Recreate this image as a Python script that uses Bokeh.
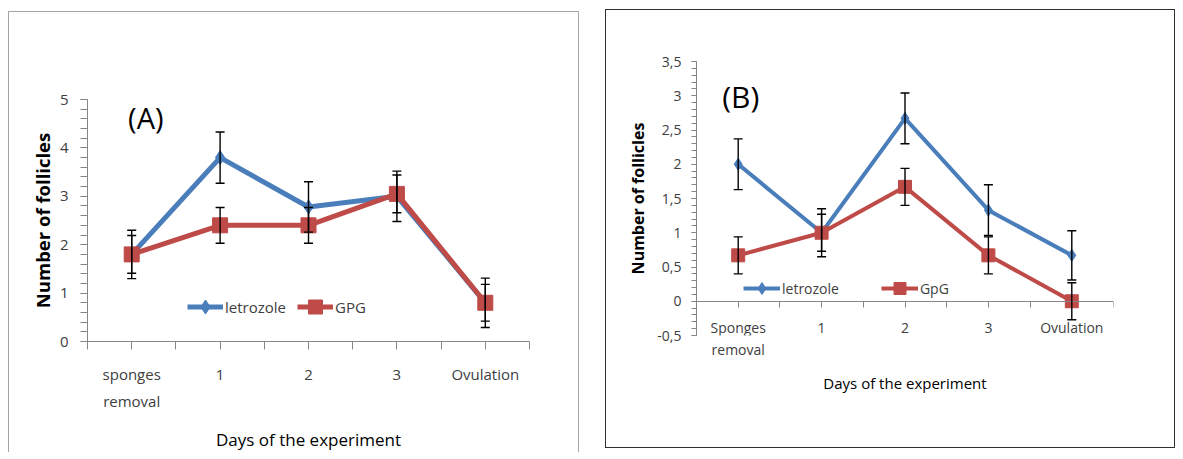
from bokeh.plotting import figure
from bokeh.models import (Range1d, FixedTicker, LinearAxis, ColumnDataSource, Whisker,
                          TeeHead, Legend, LegendItem, Label, Spacer)
from bokeh.layouts import row, column
from bokeh.embed import file_html
from bokeh.resources import INLINE

# ---------------- data ----------------
days_A = ["sponges", "1", "2", "3", "Ovulation"]
days_A_line2 = ["removal", "", "", "", ""]
days_B = ["Sponges", "1", "2", "3", "Ovulation"]
days_B_line2 = ["removal", "", "", "", ""]

A_letrozole = [1.8, 3.8, 2.78, 3.0, 0.8]
A_letrozole_err = [0.5, 0.53, 0.52, 0.52, 0.51]
A_gpg = [1.8, 2.4, 2.4, 3.05, 0.8]
A_gpg_err = [0.39, 0.37, 0.37, 0.39, 0.38]

B_letrozole = [2.0, 1.0, 2.67, 1.33, 0.67]
B_letrozole_err = [0.37, 0.35, 0.37, 0.37, 0.36]
B_gpg = [0.67, 1.0, 1.67, 0.67, 0.0]
B_gpg_err = [0.27, 0.27, 0.27, 0.27, 0.27]

A_yticks = [0, 1, 2, 3, 4, 5]
B_yticks = [-0.5, 0, 0.5, 1, 1.5, 2, 2.5, 3, 3.5]
B_ytick_labels = ["-0,5", "0", "0,5", "1", "1,5", "2", "2,5", "3", "3,5"]

BLUE = "#4a7ebb"
RED = "#be4b48"
AXIS = "#868686"
TXT = "#404040"
FONT = "Open Sans"


def panel(cats, cats2, s1, e1, s2, e2, name1, name2, yr, yticks, yminor, ylabels,
          width, height, mb, fs, tag, tag_xy, tag_fs, leg_loc, leg_glyph_w, leg_glyph_h,
          leg_spacing, lw, msize_d, msize_s, border, x_fixed, xstand, xstand2, xtitle_stand,
          xtick_out, ytick_out, ystand, ytitle_stand, ytitle_fs, xtitle_fs):
    p = figure(width=width, height=height, x_range=Range1d(-0.5, 4.5),
               y_range=Range1d(*yr), output_backend="svg", toolbar_location=None,
               x_axis_location=None, y_axis_location=None,
               min_border_left=mb[0], min_border_right=mb[1],
               min_border_top=mb[2], min_border_bottom=mb[3],
               styles=border)
    p.grid.visible = False
    p.outline_line_color = None

    xs = list(range(len(cats)))

    # y axis
    ya = LinearAxis(ticker=FixedTicker(ticks=yticks, minor_ticks=yminor))
    if ylabels is not None:
        ya.major_label_overrides = {t: l for t, l in zip(yticks, ylabels)}
    ya.axis_label = "Number of follicles"
    ya.axis_label_text_font = FONT
    ya.axis_label_text_font_style = "bold"
    ya.axis_label_text_font_size = ytitle_fs
    ya.axis_label_text_color = "black"
    ya.axis_label_standoff = ytitle_stand
    ya.axis_line_color = AXIS
    ya.major_tick_line_color = AXIS
    ya.minor_tick_line_color = AXIS
    ya.major_tick_out = ytick_out
    ya.major_tick_in = 0
    ya.minor_tick_out = ytick_out
    ya.minor_tick_in = 0
    ya.major_label_standoff = ystand
    ya.major_label_text_font = FONT
    ya.major_label_text_font_size = fs
    ya.major_label_text_color = TXT
    p.add_layout(ya, "left")

    # x axis (first line of category labels)
    xa = LinearAxis(ticker=FixedTicker(ticks=xs, minor_ticks=[x - 0.5 for x in xs] + [xs[-1] + 0.5]))
    if x_fixed:
        xa.fixed_location = 0
    xa.major_label_overrides = {x: c for x, c in zip(xs, cats)}
    xa.axis_line_color = AXIS
    xa.major_tick_line_color = AXIS
    xa.minor_tick_line_color = AXIS
    xa.major_tick_out = xtick_out
    xa.major_tick_in = 0
    xa.minor_tick_out = xtick_out
    xa.minor_tick_in = 0
    xa.major_label_standoff = xstand
    xa.major_label_text_font = FONT
    xa.major_label_text_font_size = fs
    xa.major_label_text_color = TXT
    p.add_layout(xa, "below")

    # second line of category labels + axis title
    xb = LinearAxis(ticker=FixedTicker(ticks=xs, minor_ticks=[]))
    xb.major_label_overrides = {x: c for x, c in zip(xs, cats2)}
    xb.axis_line_color = None
    xb.major_tick_line_color = None
    xb.minor_tick_line_color = None
    xb.major_tick_out = 0
    xb.major_tick_in = 0
    xb.major_label_standoff = xstand2
    xb.major_label_text_font = FONT
    xb.major_label_text_font_size = fs
    xb.major_label_text_color = TXT
    xb.axis_label = "Days of the experiment"
    xb.axis_label_text_font = FONT
    xb.axis_label_text_font_style = "normal"
    xb.axis_label_text_font_size = xtitle_fs
    xb.axis_label_text_color = "black"
    xb.axis_label_standoff = xtitle_stand
    p.add_layout(xb, "below")

    # series
    l1 = p.line(xs, s1, line_color=BLUE, line_width=lw)
    m1 = p.scatter(xs, s1, marker="diamond", size=msize_d, fill_color=BLUE, line_color=BLUE)
    l2 = p.line(xs, s2, line_color=RED, line_width=lw)
    m2 = p.scatter(xs, s2, marker="square", size=msize_s, fill_color=RED, line_color=RED)

    for s, e in ((s1, e1), (s2, e2)):
        src = ColumnDataSource(dict(x=xs, upper=[v + d for v, d in zip(s, e)],
                                    lower=[v - d for v, d in zip(s, e)]))
        w = Whisker(source=src, base="x", upper="upper", lower="lower",
                    line_color="black", line_width=1.4,
                    upper_head=TeeHead(size=9, line_color="black", line_width=1.4),
                    lower_head=TeeHead(size=9, line_color="black", line_width=1.4),
                    level="annotation")
        p.add_layout(w)

    leg = Legend(items=[LegendItem(label=name1, renderers=[l1, m1]),
                        LegendItem(label=name2, renderers=[l2, m2])],
                 orientation="horizontal", location=leg_loc,
                 glyph_width=leg_glyph_w, glyph_height=leg_glyph_h, label_height=16,
                 label_standoff=2, spacing=leg_spacing, padding=0, margin=0,
                 border_line_color=None, background_fill_alpha=0,
                 label_text_font=FONT, label_text_font_size=fs, label_text_color=TXT)
    p.add_layout(leg)

    p.add_layout(Label(x=tag_xy[0], y=tag_xy[1], text=tag, text_font=FONT,
                       text_font_size=tag_fs, text_align="center", text_baseline="middle",
                       text_color="black"))
    return p


A_minor = [i * 0.2 for i in range(26)]
B_minor = [-0.5 + i * 0.1 for i in range(41)]

pA = panel(days_A, days_A_line2, A_letrozole, A_letrozole_err, A_gpg, A_gpg_err,
           "letrozole", "GPG", (0, 5), A_yticks, A_minor, None,
           width=571, height=441, mb=(78, 51, 87, 112), fs="15px",
           tag="(A)", tag_xy=(0.16, 4.63), tag_fs="29px",
           leg_loc=(100, 17), leg_glyph_w=36, leg_glyph_h=35, leg_spacing=11,
           lw=5, msize_d=14, msize_s=15,
           border={"border-top": "1px solid #a6a6a6", "border-left": "1px solid #a6a6a6",
                   "border-right": "1px solid #a6a6a6"},
           x_fixed=False, xstand=14, xstand2=4, xtitle_stand=14, xtick_out=8,
           ytick_out=7, ystand=12, ytitle_stand=2, ytitle_fs="18.5px", xtitle_fs="17px")

pB = panel(days_B, days_B_line2, B_letrozole, B_letrozole_err, B_gpg, B_gpg_err,
           "letrozole", "GpG", (-0.5, 3.5), B_yticks, B_minor, B_ytick_labels,
           width=570, height=439, mb=(90, 63, 51, 114), fs="14px",
           tag="(B)", tag_xy=(0.03, 2.99), tag_fs="30px",
           leg_loc=(47, 32), leg_glyph_w=37, leg_glyph_h=30, leg_spacing=42,
           lw=4, msize_d=12, msize_s=13,
           border={"border": "1px solid #303030"},
           x_fixed=True, xstand=11, xstand2=4, xtitle_stand=11, xtick_out=6,
           ytick_out=5, ystand=10, ytitle_stand=5, ytitle_fs="16px", xtitle_fs="15px")

layout = row(Spacer(width=8), column(Spacer(height=11), pA), Spacer(width=26),
             column(Spacer(height=9), pB))

open("out.html", "w").write(file_html(layout, INLINE))
